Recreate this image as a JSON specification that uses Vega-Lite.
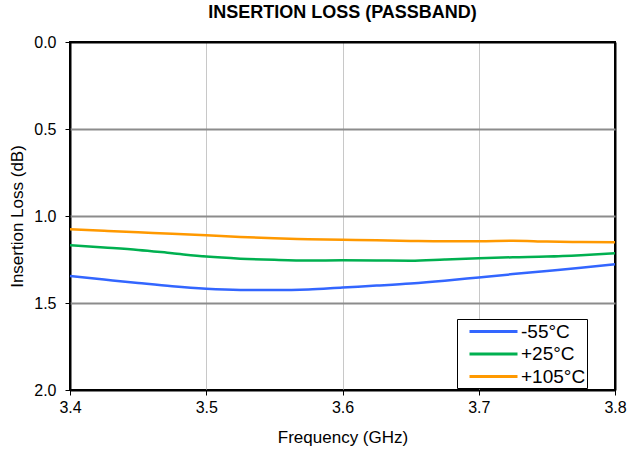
{
  "$schema": "https://vega.github.io/schema/vega-lite/v6.json",
  "width": 545,
  "height": 348,
  "autosize": {"type": "none"},
  "padding": {"left": 70, "top": 42, "right": 13, "bottom": 67},
  "background": "white",
  "view": {"stroke": "black", "strokeWidth": 2},
  "title": {"text": "INSERTION LOSS (PASSBAND)", "font": "Liberation Sans", "fontSize": 18, "fontWeight": "bold", "color": "black", "offset": 12},
  "config": {
    "font": "Liberation Sans"
  },
  "data": {"values": [
    {"f": 3.400, "t": "-55°C", "il": 1.345}, {"f": 3.425, "t": "-55°C", "il": 1.365}, {"f": 3.450, "t": "-55°C", "il": 1.385}, {"f": 3.475, "t": "-55°C", "il": 1.404}, {"f": 3.500, "t": "-55°C", "il": 1.418}, {"f": 3.525, "t": "-55°C", "il": 1.425}, {"f": 3.550, "t": "-55°C", "il": 1.426}, {"f": 3.575, "t": "-55°C", "il": 1.423}, {"f": 3.600, "t": "-55°C", "il": 1.411}, {"f": 3.625, "t": "-55°C", "il": 1.400}, {"f": 3.650, "t": "-55°C", "il": 1.388}, {"f": 3.675, "t": "-55°C", "il": 1.372}, {"f": 3.700, "t": "-55°C", "il": 1.353}, {"f": 3.725, "t": "-55°C", "il": 1.334}, {"f": 3.750, "t": "-55°C", "il": 1.316}, {"f": 3.775, "t": "-55°C", "il": 1.298}, {"f": 3.800, "t": "-55°C", "il": 1.277},
    {"f": 3.400, "t": "+25°C", "il": 1.168}, {"f": 3.425, "t": "+25°C", "il": 1.181}, {"f": 3.450, "t": "+25°C", "il": 1.195}, {"f": 3.475, "t": "+25°C", "il": 1.214}, {"f": 3.500, "t": "+25°C", "il": 1.233}, {"f": 3.525, "t": "+25°C", "il": 1.245}, {"f": 3.550, "t": "+25°C", "il": 1.252}, {"f": 3.575, "t": "+25°C", "il": 1.256}, {"f": 3.600, "t": "+25°C", "il": 1.255}, {"f": 3.625, "t": "+25°C", "il": 1.256}, {"f": 3.650, "t": "+25°C", "il": 1.257}, {"f": 3.675, "t": "+25°C", "il": 1.250}, {"f": 3.700, "t": "+25°C", "il": 1.243}, {"f": 3.725, "t": "+25°C", "il": 1.237}, {"f": 3.750, "t": "+25°C", "il": 1.233}, {"f": 3.775, "t": "+25°C", "il": 1.225}, {"f": 3.800, "t": "+25°C", "il": 1.214},
    {"f": 3.400, "t": "+105°C", "il": 1.076}, {"f": 3.425, "t": "+105°C", "il": 1.085}, {"f": 3.450, "t": "+105°C", "il": 1.094}, {"f": 3.475, "t": "+105°C", "il": 1.102}, {"f": 3.500, "t": "+105°C", "il": 1.111}, {"f": 3.525, "t": "+105°C", "il": 1.121}, {"f": 3.550, "t": "+105°C", "il": 1.128}, {"f": 3.575, "t": "+105°C", "il": 1.133}, {"f": 3.600, "t": "+105°C", "il": 1.137}, {"f": 3.625, "t": "+105°C", "il": 1.140}, {"f": 3.650, "t": "+105°C", "il": 1.143}, {"f": 3.675, "t": "+105°C", "il": 1.145}, {"f": 3.700, "t": "+105°C", "il": 1.145}, {"f": 3.725, "t": "+105°C", "il": 1.142}, {"f": 3.750, "t": "+105°C", "il": 1.147}, {"f": 3.775, "t": "+105°C", "il": 1.150}, {"f": 3.800, "t": "+105°C", "il": 1.151}
  ]},
  "mark": {"type": "line", "strokeWidth": 2.5, "interpolate": "monotone"},
  "encoding": {
    "x": {"field": "f", "type": "quantitative", "scale": {"domain": [3.4, 3.8], "nice": false, "zero": false},
      "axis": {"title": "Frequency (GHz)", "values": [3.4, 3.5, 3.6, 3.7, 3.8], "format": ".1f", "grid": true,
        "gridColor": {"condition": {"test": "datum.value <= 3.401 || datum.value >= 3.799", "value": "black"}, "value": "#c8c8c8"},
        "gridWidth": {"condition": {"test": "datum.value <= 3.401 || datum.value >= 3.799", "value": 2}, "value": 1},
        "domain": false, "ticks": true, "tickColor": "black", "tickSize": 5, "labelFlush": false, "labelFontSize": 16, "labelColor": "black", "labelPadding": 4, "titleFontSize": 17, "titleFontWeight": "normal", "titleColor": "black", "titlePadding": 14, "labelFont": "Liberation Sans", "titleFont": "Liberation Sans"}},
    "y": {"field": "il", "type": "quantitative", "scale": {"domain": [0, 2], "reverse": true, "nice": false},
      "axis": {"title": "Insertion Loss (dB)", "values": [0, 0.5, 1, 1.5, 2], "format": ".1f", "grid": true,
        "gridColor": {"condition": {"test": "datum.value <= 0.001 || datum.value >= 1.999", "value": "black"}, "value": "#8c8c8c"},
        "gridWidth": 2, "domain": false, "ticks": true, "tickColor": "black", "tickSize": 5, "labelFlush": false, "labelFontSize": 16, "labelColor": "black", "labelPadding": 9, "titleFontSize": 17, "titleFontWeight": "normal", "titleColor": "black", "titlePadding": 7, "labelFont": "Liberation Sans", "titleFont": "Liberation Sans"}},
    "color": {"field": "t", "type": "nominal", "sort": ["-55°C", "+25°C", "+105°C"],
      "scale": {"domain": ["-55°C", "+25°C", "+105°C"], "range": ["#3366ff", "#00b050", "#ff9900"]},
      "legend": {"title": null, "orient": "none", "legendX": 387, "legendY": 277, "strokeColor": "black", "fillColor": "white", "padding": 1, "labelFontSize": 19, "labelColor": "black", "symbolType": "M-2.4,0H2.4", "symbolSize": 400, "symbolStrokeWidth": 3, "symbolOffset": 24, "rowPadding": 0.5, "labelFont": "Liberation Sans", "labelOffset": 16}}
  }
}
